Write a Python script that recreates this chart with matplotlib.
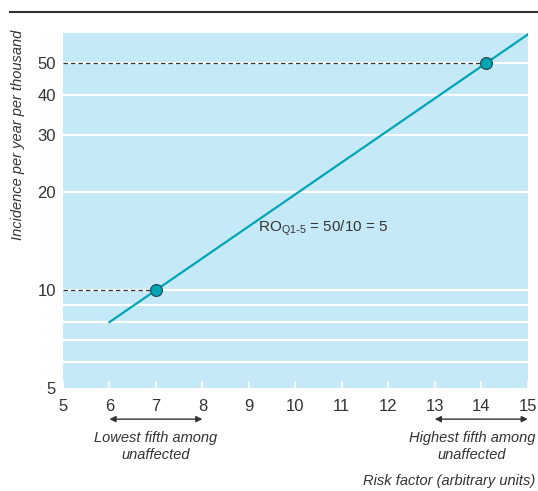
import matplotlib
matplotlib.use("Agg")
import matplotlib.pyplot as plt
from matplotlib.lines import Line2D

plt.rcParams['font.family'] = ['Liberation Sans Narrow', 'Liberation Sans', 'DejaVu Sans']

# data
line_x = [6, 15]
line_y = [7.97, 61.3]
point_x = [7, 14.1]
point_y = [10, 50]
x_ticks = [5, 6, 7, 8, 9, 10, 11, 12, 13, 14, 15]
y_ticks = [5, 10, 20, 30, 40, 50]
grid_y = [6, 7, 8, 9, 10, 20, 30, 40, 50]

teal = '#00a6b4'
bg = '#c6e9f8'
dark = '#333333'

fig = plt.figure(figsize=(5.38, 4.91), dpi=100)
ax = fig.add_axes([0.117, 0.210, 0.864, 0.723])
ax.set_facecolor(bg)
ax.set_yscale('log')
ax.set_xlim(5, 15)
ax.set_ylim(5, 62)

for g in grid_y:
    ax.axhline(g, color='white', lw=1.6, zorder=1)

# dashed guides from axis to the points
for px, py in zip(point_x, point_y):
    ax.plot([5, px], [py, py], ls=(0, (3.5, 2.5)), color=dark, lw=0.9, zorder=2)

ax.plot(line_x, line_y, color=teal, lw=1.6, zorder=3)
ax.plot(point_x, point_y, 'o', ms=8.5, mfc=teal, mec='#1f4f57', mew=0.9, zorder=4)

ax.text(9.2, 15.5, r'RO$_{\mathregular{Q1\text{-}5}}$ = 50/10 = 5', fontsize=11, color=dark,
        va='center', ha='left')

for s in ax.spines.values():
    s.set_visible(False)

ax.set_xticks(x_ticks)
ax.set_xticklabels([str(t) for t in x_ticks])
ax.minorticks_off()
ax.set_yticks(y_ticks)
ax.set_yticklabels([str(t) for t in y_ticks])
ax.tick_params(axis='x', direction='in', colors='white', length=5, width=1.2,
               labelcolor=dark, labelsize=12, pad=8)
ax.tick_params(axis='y', length=0, labelcolor=dark, labelsize=12, pad=5)

# double arrows below x axis
for x0, x1 in [(6, 8), (13, 15)]:
    ax.annotate('', xy=(x0, -0.088), xytext=(x1, -0.088),
                xycoords=('data', 'axes fraction'), textcoords=('data', 'axes fraction'),
                arrowprops=dict(arrowstyle='<|-|>', color=dark, lw=1.0,
                                mutation_scale=9, shrinkA=0, shrinkB=0),
                annotation_clip=False)

ax.text(7, -0.122, 'Lowest fifth among\nunaffected', transform=ax.get_xaxis_transform(),
        ha='center', va='top', fontsize=10.5, style='italic', color=dark, linespacing=1.25)
ax.text(13.8, -0.122, 'Highest fifth among\nunaffected', transform=ax.get_xaxis_transform(),
        ha='center', va='top', fontsize=10.5, style='italic', color=dark, linespacing=1.25)
fig.text(0.995, 0.020, 'Risk factor (arbitrary units)', ha='right', va='center',
         fontsize=10.5, style='italic', color=dark)

fig.text(0.033, 0.725, 'Incidence per year per thousand', rotation=90, ha='center',
         va='center', fontsize=10.5, style='italic', color=dark)

# top rule
fig.add_artist(Line2D([0.019, 1.0], [0.976, 0.976], color=dark, lw=1.5))

fig.savefig('out.png', dpi=100)
